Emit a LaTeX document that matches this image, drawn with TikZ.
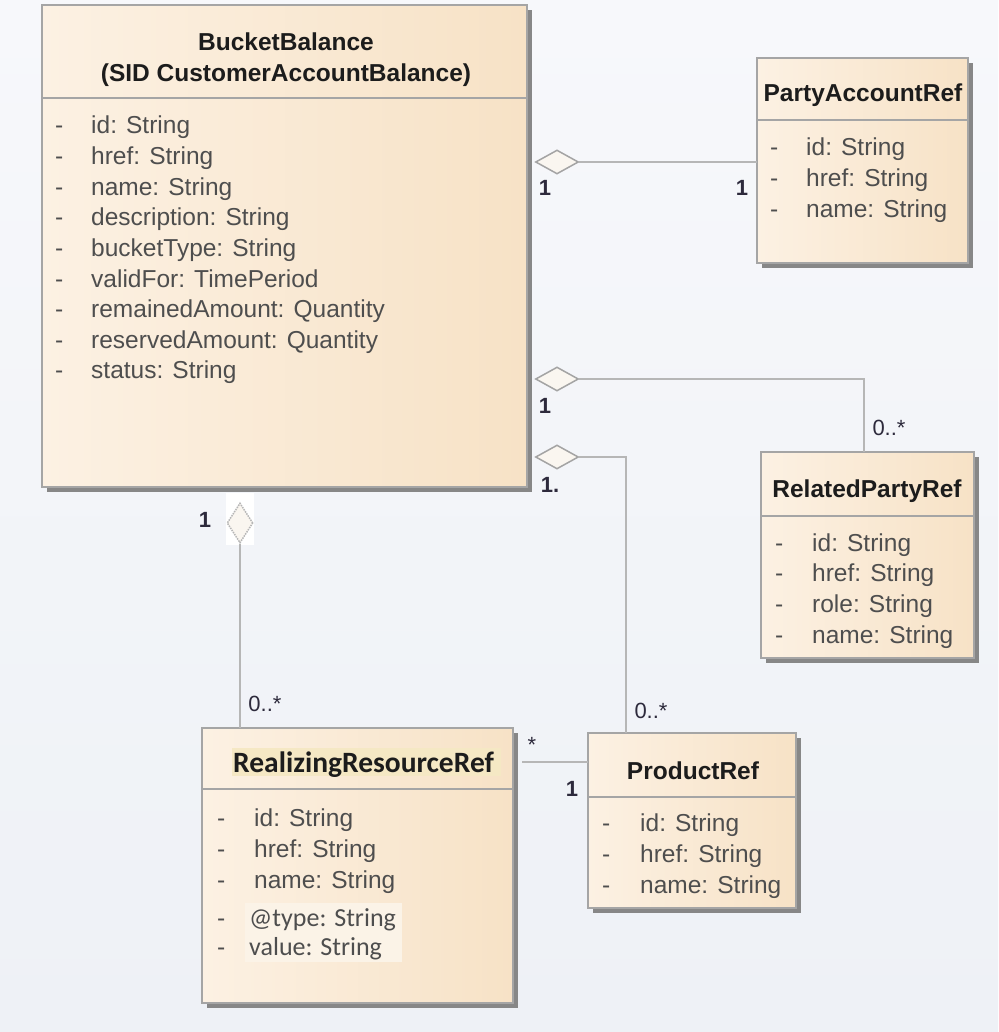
\documentclass[tikz,border=0pt]{standalone}
\usepackage{fontspec}
\setmainfont{Liberation Sans}
\newfontfamily\calib{Carlito}
\usetikzlibrary{shapes.geometric,shadows}
\definecolor{bgtop}{RGB}{247,248,251}
\definecolor{bgbot}{RGB}{238,241,246}
\definecolor{creamL}{RGB}{252,241,227}
\definecolor{creamR}{RGB}{247,226,198}
\definecolor{boxline}{RGB}{165,165,165}
\definecolor{shadowc}{RGB}{135,135,135}
\definecolor{titlec}{RGB}{28,28,28}
\definecolor{attrc}{RGB}{78,78,78}
\definecolor{connc}{RGB}{182,182,182}
\definecolor{labc}{RGB}{45,42,60}
\definecolor{hiyel}{RGB}{245,232,196}
\definecolor{hilight}{RGB}{251,243,231}
\definecolor{diamf}{RGB}{250,246,240}
\tikzset{
  cls/.style={draw=boxline, line width=1.5pt, left color=creamL, right color=creamR,
    anchor=north west, inner sep=0pt, outer sep=0pt,
    drop shadow={shadow xshift=5pt, shadow yshift=-5pt, fill=shadowc, opacity=1}},
  sepl/.style={draw=boxline, line width=1.5pt},
  ttl/.style={font=\fontsize{24.5}{28}\selectfont\bfseries, text=titlec, inner sep=0pt, anchor=base},
  attr/.style={font=\fontsize{24.5}{28}\selectfont, text=attrc, inner sep=0pt, anchor=base west},
  cattr/.style={font=\calib\fontsize{26}{28}\selectfont, text=attrc, inner sep=0pt, anchor=base west},
  conn/.style={draw=connc, line width=1.8pt},
  diam/.style={shape=diamond, draw=connc!90!black, fill=diamf, line width=1.5pt, inner sep=0pt,
    minimum width=43pt, minimum height=24pt},
  multb/.style={font=\fontsize{22}{22}\selectfont\bfseries, text=labc, inner sep=0pt},
  multr/.style={font=\fontsize{22}{22}\selectfont, text=labc, inner sep=0pt},
}
\begin{document}
\begin{tikzpicture}[x=1pt,y=-1pt]
\useasboundingbox (0,0) rectangle (998,1032);
\shade[top color=bgtop, bottom color=bgbot] (0,0) rectangle (998,1032);

% ---------- BucketBalance ----------
\node[cls, minimum width=485pt, minimum height=482pt] (bb) at (42,5) {};
\draw[sepl] ([yshift=-93pt]bb.north west) -- ([yshift=-93pt]bb.north east);
\node[ttl] (bbt1) at (286,51) {BucketBalance};
\node[ttl] (bbt2) at (286,82) {(SID CustomerAccountBalance)};
\foreach \t [count=\i from 0] in {id: String, href: String, name: String, description: String,
  bucketType: String, validFor: TimePeriod, remainedAmount: Quantity, reservedAmount: Quantity, status: String}{
  \node[attr] (bbd\i) at (55,{134+30.6*\i}) {-};
  \node[attr] (bba\i) at (91,{134+30.6*\i}) {\t};
}

% ---------- PartyAccountRef ----------
\node[cls, minimum width=211pt, minimum height=205pt] (pa) at (757,58) {};
\draw[sepl] ([yshift=-62pt]pa.north west) -- ([yshift=-62pt]pa.north east);
\node[ttl] (pat) at (863,102) {PartyAccountRef};
\foreach \t [count=\i from 0] in {id: String, href: String, name: String}{
  \node[attr] (pad\i) at (770,{156+30.7*\i}) {-};
  \node[attr] (paa\i) at (806,{156+30.7*\i}) {\t};
}

% ---------- RelatedPartyRef ----------
\node[cls, minimum width=213pt, minimum height=206pt] (rp) at (761,452) {};
\draw[sepl] ([yshift=-64pt]rp.north west) -- ([yshift=-64pt]rp.north east);
\node[ttl] (rpt) at (867,497) {RelatedPartyRef};
\foreach \t [count=\i from 0] in {id: String, href: String, role: String, name: String}{
  \node[attr] (rpd\i) at (775,{551+30.7*\i}) {-};
  \node[attr] (rpa\i) at (812,{551+30.7*\i}) {\t};
}

% ---------- ProductRef ----------
\node[cls, minimum width=208pt, minimum height=175pt] (pr) at (588,733) {};
\draw[sepl] ([yshift=-64pt]pr.north west) -- ([yshift=-64pt]pr.north east);
\node[ttl] (prt) at (693,779) {ProductRef};
\foreach \t [count=\i from 0] in {id: String, href: String, name: String}{
  \node[attr] (prd\i) at (602,{831+31*\i}) {-};
  \node[attr] (pra\i) at (640,{831+31*\i}) {\t};
}

% ---------- RealizingResourceRef ----------
\node[cls, minimum width=311pt, minimum height=275pt] (rr) at (202,728) {};
\draw[sepl] ([yshift=-61pt]rr.north west) -- ([yshift=-61pt]rr.north east);
\fill[hiyel] (232,748) rectangle (501,776);
\node[font=\calib\fontsize{29.5}{30}\selectfont\bfseries, text=titlec, inner sep=0pt, anchor=base west] (rrt) at (233,772) {RealizingResourceRef};
\foreach \t [count=\i from 0] in {id: String, href: String, name: String}{
  \node[attr] (rrd\i) at (217,{826+31*\i}) {-};
  \node[attr] (rra\i) at (254,{826+31*\i}) {\t};
}
\fill[hilight] (245,903) rectangle (402,962);
\node[attr] (rrd3) at (217,926) {-};
\node[cattr] (rra3) at (249,926) {@type: String};
\node[attr] (rrd4) at (217,955) {-};
\node[cattr] (rra4) at (249,955) {value: String};

% ---------- connectors ----------
\node[diam] (d1) at (557,162) {};
\draw[conn] (d1.east) -- (d1.east -| pa.west);
\node[multb] (m1a) at (545,188) {1};
\node[multb] (m1b) at (742,188) {1};

\node[diam] (d2) at (557,379) {};
\coordinate (rptop) at (864,452);
\draw[conn] (d2.east) -| (rptop);
\node[multb] (m2a) at (545,406) {1};
\node[multr] (m2b) at (889,428) {0..*};

\node[diam] (d3) at (557,457) {};
\coordinate (prtop) at (626,733);
\draw[conn] (d3.east) -| (prtop);
\node[multb] (m3a) at (550,485) {1.};
\node[multr] (m3b) at (651,711) {0..*};

\fill[white] (226,493) rectangle (254,545);
\node[shape=diamond, draw=connc, densely dotted, fill=diamf, line width=1.5pt, inner sep=0pt,
  minimum width=26pt, minimum height=40pt] (d4) at (240,523) {};
\draw[conn] (d4.south) -- (d4.south |- rr.north);
\node[multb] (m4a) at (205,520) {1};
\node[multr] (m4b) at (265,704) {0..*};

\coordinate (c5) at (522,762);
\draw[conn] (c5) -- (c5 -| pr.west);
\node[multr] (m5a) at (532,745) {*};
\node[multb] (m5b) at (572,789) {1};
\end{tikzpicture}
\end{document}
